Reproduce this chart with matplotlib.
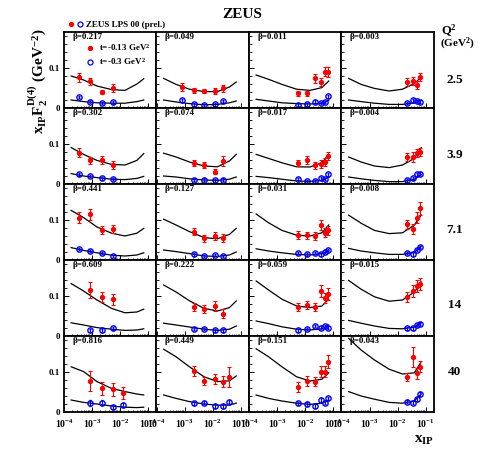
import matplotlib
matplotlib.use("Agg")
import matplotlib.pyplot as plt
from matplotlib.ticker import MultipleLocator, LogLocator, NullFormatter
from matplotlib.legend_handler import HandlerTuple
from matplotlib.lines import Line2D

plt.rcParams["font.family"] = ["Liberation Serif", "DejaVu Serif"]
plt.rcParams["font.weight"] = "bold"
plt.rcParams["mathtext.fontset"] = "custom"
plt.rcParams["mathtext.rm"] = "Liberation Serif:bold"
plt.rcParams["mathtext.it"] = "Liberation Serif:bold"
plt.rcParams["mathtext.bf"] = "Liberation Serif:bold"
plt.rcParams["mathtext.default"] = "rm"

# ---- data ----
Q2 = ["2.5", "3.9", "7.1", "14", "40"]
BETA = [[0.217, 0.049, 0.011, 0.003],
        [0.302, 0.074, 0.017, 0.004],
        [0.441, 0.127, 0.031, 0.008],
        [0.609, 0.222, 0.059, 0.015],
        [0.816, 0.449, 0.151, 0.043]]

# x_IP of the measured points (per row, per column)
XA = [3.5e-4, 8.5e-4, 2.3e-3, 5.8e-3]
XB = [2.1e-3, 5.1e-3, 1.2e-2, 2.3e-2]
XC = [5.4e-3, 1.17e-2, 2.3e-2, 3.7e-2, 5.3e-2, 6.4e-2]
XD = [2.2e-2, 3.6e-2, 4.8e-2, 6.3e-2]
PT_X = [[XA, [8.1e-4] + XB, XC, XD],
        [XA, XB, XC, XD],
        [XA, XB, XC, XD],
        [XA[1:], XB, XC, XD],
        [XA[1:] + [1.3e-2], XB + [3.9e-2], XC, XD]]

# t = -0.13 GeV^2 (red)
RED_Y = [[[0.077, 0.067, 0.040, 0.050], [0.0525, 0.044, 0.0425, 0.0425, 0.049],
          [0.037, 0.037, 0.074, 0.065, 0.091, 0.090], [0.065, 0.0675, 0.0575, 0.0775]],
         [[0.078, 0.059, 0.059, 0.0475], [0.053, 0.047, 0.031, 0.0575],
          [0.053, 0.059, 0.047, 0.049, 0.055, 0.070], [0.0675, 0.0675, 0.078, 0.080]],
         [[0.106, 0.114, 0.074, 0.077], [0.071, 0.054, 0.060, 0.056],
          [0.0625, 0.062, 0.060, 0.0875, 0.068, 0.074], [0.089, 0.077, 0.106, 0.129]],
         [[0.114, 0.0975, 0.092], [0.0725, 0.067, 0.075, 0.056],
          [0.0725, 0.0775, 0.0725, 0.1125, 0.095, 0.105], [0.098, 0.112, 0.125, 0.130]],
         [[0.078, 0.059, 0.057, 0.048], [0.1025, 0.078, 0.082, 0.076, 0.088],
          [0.062, 0.078, 0.076, 0.101, 0.101, 0.126], [0.087, 0.138, 0.097, 0.113]]]
RED_ERR = [[[0.011, 0.009, 0.006, 0.010], [0.010, 0.007, 0.006, 0.007, 0.009],
            [0.006, 0.006, 0.011, 0.010, 0.012, 0.013], [0.010, 0.011, 0.010, 0.011]],
           [[0.011, 0.009, 0.010, 0.009], [0.008, 0.008, 0.006, 0.012],
            [0.008, 0.010, 0.009, 0.010, 0.010, 0.011], [0.011, 0.012, 0.010, 0.010]],
           [[0.013, 0.014, 0.010, 0.010], [0.009, 0.008, 0.009, 0.010],
            [0.009, 0.009, 0.009, 0.012, 0.011, 0.012], [0.012, 0.013, 0.013, 0.016]],
           [[0.020, 0.013, 0.014], [0.010, 0.010, 0.012, 0.011],
            [0.011, 0.011, 0.011, 0.016, 0.013, 0.015], [0.012, 0.015, 0.014, 0.015]],
           [[0.025, 0.016, 0.016, 0.015], [0.012, 0.010, 0.012, 0.014, 0.025],
            [0.012, 0.012, 0.012, 0.013, 0.013, 0.016], [0.010, 0.025, 0.014, 0.014]]]

# t = -0.3 GeV^2 (blue)
BLUE_Y = [[[0.028, 0.016, 0.012, 0.014], [0.019, 0.009, 0.008, 0.009, 0.0175],
           [0.0075, 0.009, 0.016, 0.0125, 0.015, 0.029], [0.013, 0.019, 0.0175, 0.016]],
          [[0.024, 0.020, 0.014, 0.012], [0.010, 0.011, 0.009, 0.011],
           [0.013, 0.0075, 0.0075, 0.014, 0.012, 0.024], [0.009, 0.014, 0.024, 0.026]],
          [[0.028, 0.0225, 0.017, 0.010], [0.014, 0.010, 0.0125, 0.010],
           [0.017, 0.014, 0.017, 0.014, 0.021, 0.025], [0.017, 0.014, 0.025, 0.033]],
          [[0.014, 0.014, 0.019], [0.017, 0.018, 0.014, 0.014],
           [0.014, 0.017, 0.025, 0.021, 0.025, 0.021], [0.019, 0.019, 0.0275, 0.031]],
          [[0.022, 0.023, 0.012, 0.0175], [0.022, 0.023, 0.015, 0.015, 0.026],
           [0.022, 0.020, 0.015, 0.030, 0.023, 0.034], [0.026, 0.023, 0.0325, 0.045]]]
BLUE_ERR = [[[0.003] * 4, [0.003] * 5, [0.003] * 6, [0.003] * 4],
            [[0.003] * 4, [0.003] * 4, [0.003] * 6, [0.003] * 4],
            [[0.003] * 4, [0.003] * 4, [0.003] * 6, [0.003] * 4],
            [[0.003] * 3, [0.003] * 4, [0.003] * 6, [0.003] * 4],
            [[0.007, 0.006, 0.004, 0.006], [0.004] * 5, [0.004] * 6, [0.004] * 4]]

# model curves, read at these x_IP values
CURVE_X = [1.8e-4, 5e-4, 1.5e-3, 5e-3, 1.5e-2, 4e-2, 7e-2]
RED_CURVE = [[[0.080, 0.070, 0.055, 0.046, 0.044, 0.060, 0.073],
              [0.074, 0.059, 0.047, 0.041, 0.041, 0.0525, 0.065],
              [0.0825, 0.0717, 0.059, 0.047, 0.044, 0.051, 0.0675],
              [0.074, 0.059, 0.049, 0.0425, 0.047, 0.061, 0.0775]],
             [[0.091, 0.074, 0.059, 0.049, 0.0475, 0.059, 0.076],
              [0.077, 0.0675, 0.055, 0.045, 0.043, 0.0575, 0.074],
              [0.074, 0.064, 0.053, 0.043, 0.0425, 0.053, 0.074],
              [0.0675, 0.055, 0.045, 0.041, 0.0475, 0.064, 0.091]],
             [[0.124, 0.106, 0.0825, 0.067, 0.060, 0.067, 0.079],
              [0.102, 0.0875, 0.071, 0.056, 0.053, 0.064, 0.079],
              [0.115, 0.093, 0.074, 0.062, 0.060, 0.068, 0.0875],
              [0.112, 0.092, 0.074, 0.066, 0.068, 0.0875, 0.1125]],
             [[0.131, 0.1125, 0.090, 0.069, 0.058, 0.060, 0.067],
              [0.1275, 0.110, 0.088, 0.069, 0.0625, 0.071, 0.0875],
              [0.1375, 0.115, 0.092, 0.075, 0.071, 0.075, 0.092],
              [0.139, 0.117, 0.098, 0.087, 0.090, 0.110, 0.135]],
             [[0.113, 0.101, 0.076, 0.059, 0.051, 0.045, 0.0425],
              [0.157, 0.138, 0.113, 0.088, 0.076, 0.078, 0.090],
              [0.158, 0.138, 0.113, 0.088, 0.0775, 0.082, 0.098],
              [0.184, 0.155, 0.130, 0.107, 0.095, 0.098, 0.126]]]
BLUE_CURVE = [[[0.020, 0.016, 0.013, 0.012, 0.012, 0.016, 0.020],
               [0.020, 0.015, 0.011, 0.008, 0.009, 0.013, 0.0175],
               [0.0217, 0.0175, 0.013, 0.011, 0.010, 0.012, 0.019],
               [0.020, 0.016, 0.012, 0.009, 0.009, 0.013, 0.019]],
              [[0.026, 0.020, 0.016, 0.012, 0.011, 0.014, 0.019],
               [0.020, 0.0175, 0.013, 0.010, 0.009, 0.012, 0.0175],
               [0.019, 0.016, 0.012, 0.0075, 0.0065, 0.009, 0.0175],
               [0.0175, 0.013, 0.009, 0.006, 0.006, 0.012, 0.024]],
              [[0.031, 0.024, 0.018, 0.012, 0.010, 0.0125, 0.018],
               [0.025, 0.021, 0.016, 0.010, 0.009, 0.0125, 0.020],
               [0.028, 0.0225, 0.018, 0.014, 0.0125, 0.016, 0.024],
               [0.029, 0.0225, 0.018, 0.014, 0.014, 0.020, 0.035]],
              [[0.033, 0.0275, 0.021, 0.017, 0.014, 0.015, 0.018],
               [0.032, 0.0275, 0.0225, 0.017, 0.014, 0.017, 0.025],
               [0.0375, 0.031, 0.023, 0.017, 0.015, 0.018, 0.0275],
               [0.039, 0.032, 0.025, 0.019, 0.018, 0.0225, 0.033]],
              [[0.030, 0.024, 0.020, 0.015, 0.012, 0.011, 0.012],
               [0.0425, 0.034, 0.026, 0.020, 0.017, 0.0175, 0.022],
               [0.0425, 0.034, 0.0275, 0.022, 0.019, 0.022, 0.030],
               [0.051, 0.040, 0.032, 0.024, 0.022, 0.028, 0.045]]]

XTICKS = [1e-4, 1e-3, 1e-2, 1e-1]
XTICKLABELS = [r"$10^{-4}$", r"$10^{-3}$", r"$10^{-2}$", r"$10^{-1}$"]

# ---- layout (pixels) ----
W, H = 481, 450
fig = plt.figure(figsize=(W / 100, H / 100), dpi=100)
col_left = [64, 156.5, 249, 341.5]
row_top = [32, 108, 184, 260, 336]
pw, ph = 92.5, 76

axes = []
for r in range(5):
    for c in range(4):
        ax = fig.add_axes([col_left[c] / W, 1 - (row_top[r] + ph) / H, pw / W, ph / H])
        ax.set_xscale("log")
        ax.set_xlim(1e-4, 0.2)
        ax.set_ylim(0, 0.19)

        ax.plot(CURVE_X, RED_CURVE[r][c], color="black", lw=0.9)
        ax.plot(CURVE_X, BLUE_CURVE[r][c], color="black", lw=0.9)
        ax.errorbar(PT_X[r][c], RED_Y[r][c], yerr=RED_ERR[r][c], fmt="o", ms=2.8,
                    color="red", ecolor="red", elinewidth=0.8, capsize=1.2, capthick=0.8)
        ax.errorbar(PT_X[r][c], BLUE_Y[r][c], yerr=BLUE_ERR[r][c], fmt="o", ms=3.8,
                    mfc="none", mec="blue", mew=1.0, ecolor="blue", elinewidth=0.8,
                    capsize=1.0, capthick=0.8)

        ax.text(0.09, 0.985, "\u03b2=%.3f" % BETA[r][c], transform=ax.transAxes,
                ha="left", va="top", fontsize=6.5)

        for s in ax.spines.values():
            s.set_linewidth(1.3)
        ax.xaxis.set_major_locator(LogLocator(base=10))
        ax.xaxis.set_minor_locator(LogLocator(base=10, subs=range(2, 10)))
        ax.xaxis.set_minor_formatter(NullFormatter())
        ax.yaxis.set_major_locator(MultipleLocator(0.1))
        ax.yaxis.set_minor_locator(MultipleLocator(0.02))
        ax.tick_params(which="both", direction="in", top=False, right=False,
                       labelsize=6.5, pad=3)
        ax.tick_params(which="major", length=3.5, width=0.7)
        ax.tick_params(which="minor", length=1.8, width=0.6)

        if c == 0:
            ax.set_yticks([0, 0.1])
            ax.set_yticklabels(["0", "0.1"])
        else:
            ax.tick_params(labelleft=False)
        if r == 4:
            ax.set_xticks(XTICKS)
            ax.set_xticklabels(XTICKLABELS)
            ax.tick_params(axis="x", labelsize=7, pad=4)
        else:
            ax.tick_params(labelbottom=False)
        axes.append(ax)

# legend inside first panel
h_red = Line2D([], [], ls="none", marker="o", ms=2.8, color="red")
h_blue = Line2D([], [], ls="none", marker="o", ms=3.6, mfc="none", mec="blue", mew=0.9)
axes[0].legend([h_red, h_blue], [r"t=-0.13 GeV$^{2}$", r"t=-0.3 GeV$^{2}$"],
               loc="upper left", bbox_to_anchor=(0.2, 0.92), frameon=False,
               fontsize=6.5, handlelength=0.8, handletextpad=0.6, labelspacing=0.35,
               borderaxespad=0)
fig.legend([(h_red, h_blue)], ["ZEUS LPS 00 (prel.)"],
           handler_map={tuple: HandlerTuple(ndivide=None, pad=0.6)},
           loc="center left", bbox_to_anchor=(66 / W, 1 - 25 / H), frameon=False,
           fontsize=6.5, handlelength=1.4, handletextpad=0.4, borderaxespad=0)

fig.text(242 / W, 1 - 15 / H, "ZEUS", ha="center", va="center", fontsize=11)
fig.text(38 / W, 1 - 28 / H, r"$x_{IP}F_{2}^{D(4)}$ (GeV$^{-2}$)", rotation=90,
         ha="center", va="top", fontsize=11)
fig.text(434 / W, 1 - 440 / H, r"$x_{IP}$", ha="right", va="center", fontsize=11)

fig.text(449 / W, 1 - 31 / H, r"Q$^{2}$", ha="center", va="center", fontsize=9)
fig.text(457 / W, 1 - 44 / H, r"(GeV$^{2}$)", ha="center", va="center", fontsize=8)
for q, yq in zip(Q2, [80, 155, 230, 305, 372]):
    fig.text(455 / W, 1 - yq / H, q, ha="center", va="center", fontsize=9.5)

fig.savefig("out.png", dpi=100)
